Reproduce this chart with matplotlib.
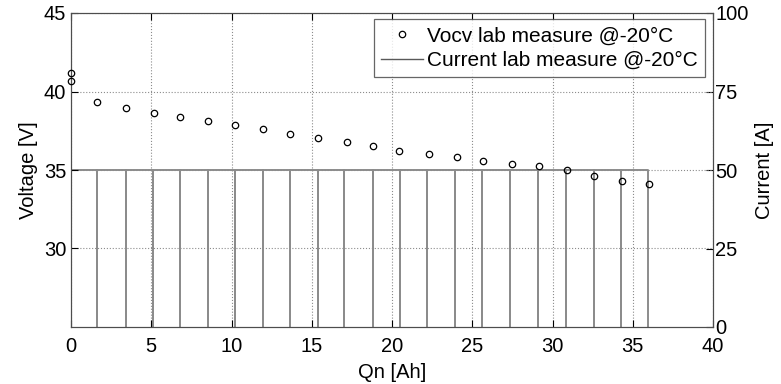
import matplotlib
matplotlib.use("Agg")
import matplotlib.pyplot as plt
from matplotlib.lines import Line2D

plt.rcParams['font.family'] = ['Liberation Sans', 'DejaVu Sans']

# Open-circuit voltage measurements
q_ocv = [0.0, 0.0, 1.64, 3.41, 5.15, 6.79, 8.55, 10.24, 11.98, 13.64, 15.39, 17.18,
         18.84, 20.44, 22.3, 24.03, 25.69, 27.46, 29.16, 30.88, 32.59, 34.35, 36.03]
v_ocv = [41.2, 40.65, 39.34, 38.95, 38.63, 38.38, 38.12, 37.89, 37.61, 37.32, 37.04, 36.81,
         36.55, 36.23, 36.04, 35.83, 35.57, 35.36, 35.23, 34.97, 34.61, 34.33, 34.08]

# Current pulse edges (Ah) and pulse level (A)
q_edges = [0.0, 1.64, 3.41, 5.08, 6.79, 8.55, 10.2, 11.98, 13.64, 15.39, 17.03,
           18.84, 20.5, 22.2, 23.95, 25.62, 27.38, 29.08, 30.86, 32.56, 34.26, 35.95]
i_level = 50.0

x_ticks = [0, 5, 10, 15, 20, 25, 30, 35, 40]
v_ticks = [30, 35, 40, 45]
i_ticks = [0, 25, 50, 75, 100]

# build current trace
qc, ic = [q_edges[0]], [0.0]
for k, q in enumerate(q_edges):
    if k == 0:
        qc += [q]; ic += [i_level]
    else:
        qc += [q, q]; ic += [i_level, 0.0]
        if k < len(q_edges) - 1:
            qc += [q]; ic += [i_level]

fig = plt.figure(figsize=(7.81, 3.84), dpi=100)
ax = fig.add_axes([71/781, 1-327/384, (713-71)/781, (327-13)/384])
ax2 = ax.twinx()

cur_color = '0.55'
ax2.plot(qc, ic, color=cur_color, lw=1.4, zorder=2)
ax2.set_ylim(0, 100)
ax2.set_yticks(i_ticks)

ax.set_zorder(ax2.get_zorder() + 1)
ax.patch.set_visible(False)
ax.plot(q_ocv, v_ocv, 'o', ms=4.6, mfc='none', mec='black', mew=0.9, zorder=5, clip_on=False)
ax.set_xlim(0, 40)
ax.set_ylim(25, 45)
ax.set_xticks(x_ticks)
ax.set_yticks(v_ticks)

ax.grid(True, linestyle=':', color='0.55', lw=0.8)
fs = 14.5
for a in (ax, ax2):
    a.tick_params(direction='in', length=5, labelsize=fs, width=0.8)
    for s in a.spines.values():
        s.set_color('0.3')
        s.set_linewidth(0.8)
ax.tick_params(top=True, pad=3.5)
ax.tick_params(axis='x', pad=7)
ax2.tick_params(pad=1.5)

ax.set_xlabel('Qn [Ah]', fontsize=fs, labelpad=5)
ax.set_ylabel('Voltage [V]', fontsize=fs, labelpad=4)
ax2.set_ylabel('Current [A]', fontsize=fs, labelpad=5)

handles = [Line2D([], [], ls='none', marker='o', ms=4.6, mfc='none', mec='black', mew=0.9),
           Line2D([], [], color='0.35', lw=1.0)]
leg = ax.legend(handles, ['Vocv lab measure @-20°C', 'Current lab measure @-20°C'],
                loc='upper right', bbox_to_anchor=(705/781, 1-19/384),
                bbox_transform=fig.transFigure, fontsize=15, frameon=True,
                fancybox=False, edgecolor='0.25', borderpad=0.35, handlelength=2.0,
                handletextpad=0.2, labelspacing=0.28, borderaxespad=0)
leg.get_frame().set_linewidth(0.9)

fig.savefig('out.png', dpi=100)
